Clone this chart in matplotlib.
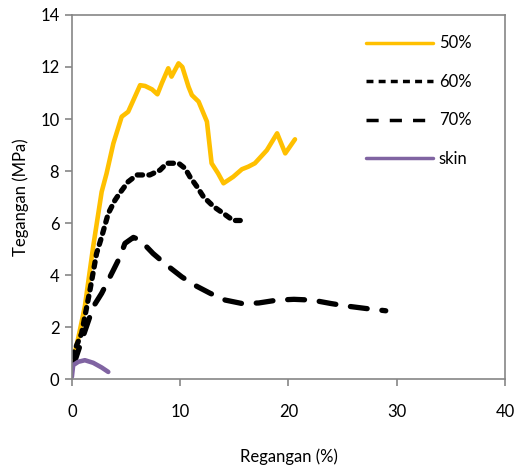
import matplotlib
matplotlib.use('Agg')
import matplotlib.pyplot as plt

plt.rcParams['font.family'] = ['Lato', 'DejaVu Sans']

# regangan (%) dan tegangan (MPa)
x_50 = [0.0, 0.6, 1.2, 1.97, 2.75, 3.2, 3.83, 4.6, 5.2, 6.3, 6.76, 7.4, 7.9, 8.3, 8.9, 9.2,
        9.85, 10.2, 10.77, 11.08, 11.7, 12.47, 12.9, 13.5, 14.0, 14.9, 15.7, 16.3, 16.9,
        18.0, 18.95, 19.7, 20.6]
y_50 = [0.55, 1.6, 2.8, 5.1, 7.2, 7.9, 9.06, 10.09, 10.28, 11.3, 11.27, 11.14, 10.95, 11.37,
        11.95, 11.63, 12.14, 12.0, 11.24, 10.92, 10.67, 9.9, 8.3, 7.91, 7.53, 7.78, 8.07,
        8.17, 8.3, 8.8, 9.45, 8.68, 9.22]

x_60 = [0.0, 0.9, 1.67, 2.28, 2.75, 3.36, 3.98, 4.4, 5.2, 6.0, 7.2, 8.15, 8.77, 9.85,
        10.46, 10.9, 11.55, 12.15, 13.1, 14.0, 14.9, 15.55]
y_60 = [0.86, 1.76, 3.42, 4.83, 5.47, 6.37, 6.88, 7.14, 7.59, 7.85, 7.85, 8.04, 8.3, 8.3,
        8.1, 7.78, 7.4, 7.01, 6.63, 6.37, 6.1, 6.1]

x_70 = [0.2, 1.0, 1.97, 2.75, 3.83, 4.44, 4.9, 5.68, 6.3, 7.5, 8.77, 10.16, 11.4, 12.78,
        14.17, 15.7, 17.25, 18.95, 20.5, 22.2, 23.9, 25.4, 27.1, 28.98]
y_70 = [0.6, 1.6, 2.78, 3.3, 4.19, 4.7, 5.22, 5.45, 5.35, 4.83, 4.38, 3.93, 3.6, 3.3,
        3.04, 2.91, 2.93, 3.04, 3.07, 3.04, 2.91, 2.81, 2.72, 2.63]

x_skin = [0.0, 0.12, 0.6, 1.2, 1.97, 2.75, 3.36]
y_skin = [0.09, 0.54, 0.67, 0.73, 0.63, 0.45, 0.28]

fig = plt.figure(figsize=(5.17, 4.67), dpi=100)
ax = fig.add_axes([0.139, 0.188, 0.838, 0.780])

ax.plot(x_50, y_50, color='#FFC000', lw=3.3, solid_capstyle='round', solid_joinstyle='round', label='50%')
ax.plot(x_60, y_60, color='black', lw=3.8, linestyle=(0, (1.0, 1.2)), dash_capstyle='round', label='60%')
ax.plot(x_70, y_70, color='black', lw=3.8, linestyle=(0, (3.2, 2.8)), dash_capstyle='round', label='70%')
ax.plot(x_skin, y_skin, color='#8064A2', lw=3.3, solid_capstyle='round', label='skin')

ax.set_xlim(0, 40)
ax.set_ylim(0, 14)
ax.set_xticks([0, 10, 20, 30, 40])
ax.set_yticks(range(0, 15, 2))

for s in ax.spines.values():
    s.set_color('#868686')
    s.set_linewidth(1.2)
ax.tick_params(direction='out', length=5, width=1.2, color='#868686', labelsize=12, pad=4)
ax.tick_params(axis='x', pad=13)

ax.set_xlabel('Regangan (%)', fontsize=12, labelpad=20)
ax.set_ylabel('Tegangan (MPa)', fontsize=12, labelpad=8)

leg = ax.legend(loc='upper left', bbox_to_anchor=(0.645, 0.985), frameon=False, fontsize=12,
                handlelength=4.0, labelspacing=1.35, handletextpad=0.35)
for h in leg.get_lines():
    h.set_linewidth(2.5)
leg.get_lines()[1].set_linestyle((0, (2.0, 1.5)))
leg.get_lines()[1].set_dash_capstyle('butt')
leg.get_lines()[2].set_linestyle((0, (3.5, 3.2)))
leg.get_lines()[2].set_dash_capstyle('butt')

fig.savefig('out.png', dpi=100)
